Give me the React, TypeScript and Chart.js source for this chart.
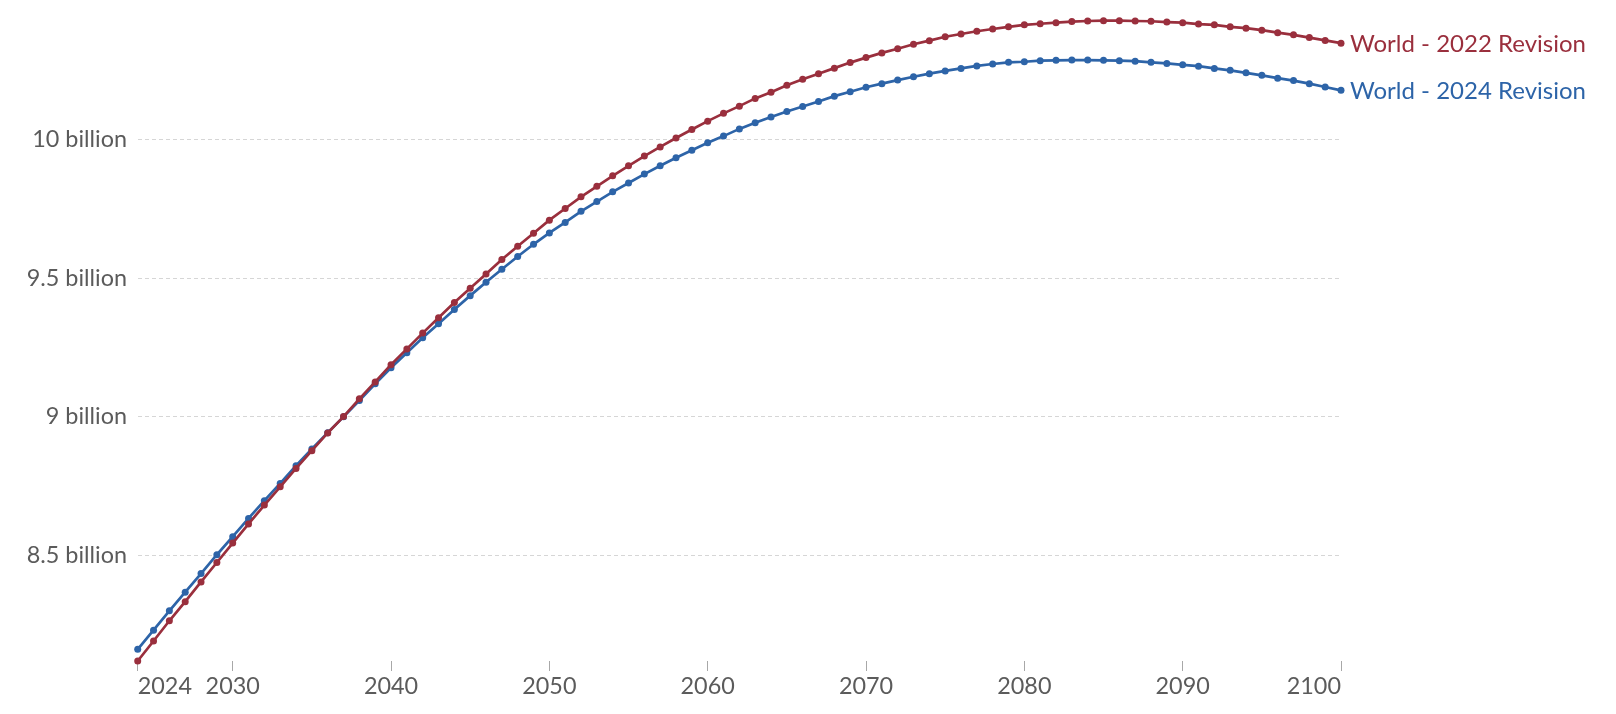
import React, { useEffect, useRef } from "react";
import { Chart, registerables } from "chart.js";

Chart.register(...registerables);

const years: number[] = Array.from({ length: 77 }, (_, i) => 2024 + i);

const revision2022: number[] = [
  8.120, 8.192, 8.265, 8.334, 8.405, 8.475, 8.545, 8.614, 8.682, 8.748,
  8.814, 8.878, 8.942, 9.001, 9.065, 9.126, 9.188, 9.245, 9.302, 9.357,
  9.412, 9.464, 9.515, 9.567, 9.615, 9.662, 9.709, 9.751, 9.793, 9.831,
  9.869, 9.905, 9.940, 9.973, 10.005, 10.036, 10.066, 10.094, 10.120, 10.148,
  10.170, 10.195, 10.217, 10.237, 10.257, 10.277, 10.295, 10.312, 10.327, 10.343,
  10.356, 10.370, 10.380, 10.390, 10.398, 10.406, 10.413, 10.417, 10.421, 10.425,
  10.427, 10.428, 10.428, 10.427, 10.426, 10.423, 10.421, 10.416, 10.413, 10.406,
  10.401, 10.394, 10.385, 10.377, 10.367, 10.357, 10.347,
];

const revision2024: number[] = [
  8.162, 8.231, 8.301, 8.368, 8.435, 8.503, 8.568, 8.634, 8.698, 8.760,
  8.824, 8.884, 8.943, 9.000, 9.059, 9.119, 9.177, 9.231, 9.285, 9.336,
  9.387, 9.437, 9.485, 9.532, 9.578, 9.622, 9.663, 9.701, 9.741, 9.776,
  9.811, 9.843, 9.875, 9.905, 9.934, 9.961, 9.988, 10.012, 10.038, 10.060,
  10.081, 10.101, 10.119, 10.137, 10.156, 10.172, 10.188, 10.201, 10.214, 10.226,
  10.237, 10.247, 10.256, 10.265, 10.272, 10.278, 10.280, 10.284, 10.285, 10.286,
  10.286, 10.285, 10.284, 10.282, 10.278, 10.274, 10.269, 10.264, 10.256, 10.249,
  10.240, 10.231, 10.221, 10.212, 10.201, 10.189, 10.177,
];

const seriesNames = ["World - 2022 Revision", "World - 2024 Revision"];
const xTickValues = [2024, 2030, 2040, 2050, 2060, 2070, 2080, 2090, 2100];
const yTickValues = [8.5, 9, 9.5, 10];

const RED = "#9a2f3d";
const BLUE = "#2d64a8";
const FONT = "Lato, 'Noto Sans', sans-serif";
const TICK_SIZE = 23.4;
const LABEL_SIZE = 24;

const endLabels = {
  id: "endLabels",
  afterDatasetsDraw(chart: any) {
    const ctx = chart.ctx;
    chart.data.datasets.forEach((ds: any, i: number) => {
      const meta = chart.getDatasetMeta(i);
      const pt = meta.data[meta.data.length - 1];
      if (!pt) return;
      ctx.save();
      ctx.font = `${LABEL_SIZE}px ${FONT}`;
      ctx.fillStyle = ds.borderColor;
      ctx.textAlign = "left";
      ctx.textBaseline = "middle";
      ctx.fillText(ds.label, pt.x + 9, pt.y + 1);
      ctx.restore();
    });
  },
};

export default function App() {
  const ref = useRef<HTMLCanvasElement | null>(null);

  useEffect(() => {
    if (!ref.current) return;
    const mk = (vals: number[]) => years.map((y, i) => ({ x: y, y: vals[i] }));
    const ds = (label: string, vals: number[], color: string) => ({
      label,
      data: mk(vals),
      borderColor: color,
      backgroundColor: color,
      borderWidth: 2.7,
      pointRadius: 3.5,
      pointBorderWidth: 0,
      pointBackgroundColor: color,
      clip: false,
      tension: 0,
    });
    const chart = new Chart(ref.current, {
      type: "line",
      data: {
        datasets: [
          ds(seriesNames[0], revision2022, RED),
          ds(seriesNames[1], revision2024, BLUE),
        ],
      },
      options: {
        animation: false,
        responsive: true,
        maintainAspectRatio: false,
        layout: { padding: { top: 12.7, right: 267, left: 0, bottom: 0 } },
        plugins: { legend: { display: false }, tooltip: { enabled: false } },
        scales: {
          x: {
            type: "linear",
            min: 2024,
            max: 2100,
            afterBuildTicks: (scale: any) => {
              scale.ticks = xTickValues.map((v) => ({ value: v }));
            },
            afterFit: (scale: any) => {
              scale.height = 45;
              scale.paddingLeft = 0;
              scale.paddingRight = 0;
            },
            ticks: {
              align: "inner",
              autoSkip: false,
              maxRotation: 0,
              padding: 1,
              color: "#5b5b5b",
              font: { family: FONT, size: TICK_SIZE },
              callback: (v: any) => String(v),
            },
            grid: {
              drawOnChartArea: false,
              drawTicks: true,
              tickLength: 10,
              color: "#a8a8a8",
              lineWidth: 1,
            },
            border: { display: false },
          },
          y: {
            type: "linear",
            min: 8.12,
            max: 10.428,
            afterBuildTicks: (scale: any) => {
              scale.ticks = yTickValues.map((v) => ({ value: v }));
            },
            afterFit: (scale: any) => {
              scale.width = 129.7;
              scale.paddingTop = 0;
              scale.paddingBottom = 0;
            },
            ticks: {
              padding: 10.7,
              color: "#5b5b5b",
              font: { family: FONT, size: TICK_SIZE },
              callback: (v: any) => `${v} billion`,
            },
            grid: {
              drawTicks: false,
              color: "#d6d6d6",
              lineWidth: 1,
            },
            border: { display: false, dash: [4, 3] },
          },
        },
      },
      plugins: [endLabels],
    });
    return () => chart.destroy();
  }, []);

  return (
    <div style={{ width: 1600, height: 698, position: "relative" }}>
      <canvas ref={ref} />
    </div>
  );
}
